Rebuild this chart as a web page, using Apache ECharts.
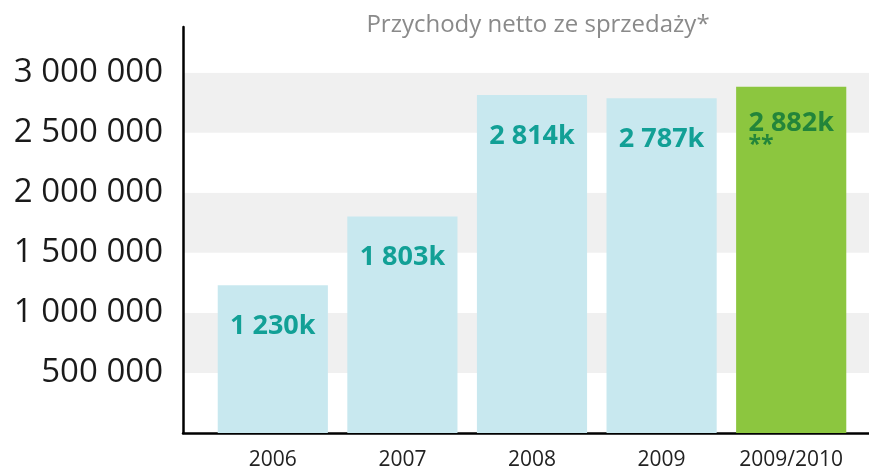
<!DOCTYPE html>
<html>
<head>
<meta charset="utf-8">
<script src="https://cdn.jsdelivr.net/npm/echarts@6/dist/echarts.min.js"></script>
<style>
  html, body { margin: 0; padding: 0; background: #fff; }
  #chart { width: 869px; height: 472px; }
</style>
</head>
<body>
<div id="chart"></div>
<script>
// Chart data
const categories = ['2006', '2007', '2008', '2009', '2009/2010'];
const revenue = [1230000, 1803000, 2814000, 2787000, 2882000];
const barLabels = ['1 230k', '1 803k', '2 814k', '2 787k', '2 882k'];
const footnoteMarks = ['', '', '', '', '**'];
const chartTitle = 'Przychody netto ze sprzedaży*';

const yMax = 3380000;
const FONT = '"Open Sans", "DejaVu Sans", sans-serif';

// Format 3000000 -> "3 000 000"
function formatThousands(v) {
    return String(v).replace(/\B(?=(\d{3})+(?!\d))/g, ' ');
}

const barData = revenue.map((v, i) => {
    const isLast = i === categories.length - 1;
    return {
        value: v,
        itemStyle: { color: isLast ? '#8cc63f' : '#c8e8ef' },
        label: {
            color: isLast ? '#23853a' : '#12a096',
            distance: isLast ? 22 : 27,
            formatter: footnoteMarks[i]
                ? '{a|' + barLabels[i] + '}\n{b|' + footnoteMarks[i] + '}'
                : '{a|' + barLabels[i] + '}'
        }
    };
});

const chart = echarts.init(document.getElementById('chart'), null, { renderer: 'canvas' });

chart.setOption({
    animation: false,
    backgroundColor: '#fff',
    title: {
        text: chartTitle,
        left: 533,
        textAlign: 'center',
        top: 8,
        textStyle: { fontFamily: FONT, fontSize: 24, fontWeight: 'normal', color: '#8a8a8a' }
    },
    grid: [
        // frame grid: axis lines and bands span the full width
        { left: 183, right: 0, top: 27, bottom: 39 },
        // bar grid: categories sit inside the frame
        { left: 208, right: 13, top: 27, bottom: 39 }
    ],
    xAxis: [
        {
            gridIndex: 0,
            type: 'value',
            min: 0,
            max: 1,
            axisLine: { show: true, onZero: false, lineStyle: { color: '#000', width: 2.5 } },
            axisTick: { show: false },
            axisLabel: { show: false },
            splitLine: { show: false }
        },
        {
            gridIndex: 1,
            type: 'category',
            data: categories,
            axisLine: { show: false },
            axisTick: { show: false },
            axisLabel: { interval: 0, margin: 17, fontFamily: FONT, fontSize: 21, color: '#222' }
        }
    ],
    yAxis: [
        {
            gridIndex: 0,
            type: 'value',
            min: 0,
            max: yMax,
            interval: 500000,
            axisLine: { show: true, lineStyle: { color: '#000', width: 2.5 } },
            axisTick: { show: false },
            axisLabel: {
                margin: 20,
                showMinLabel: false,
                showMaxLabel: false,
                fontFamily: FONT,
                fontSize: 33,
                fontWeight: 'normal',
                color: '#1a1a1a',
                formatter: formatThousands
            },
            splitLine: { show: false },
            splitArea: { show: true, areaStyle: { color: ['#ffffff', '#f0f0f0'] } }
        },
        {
            gridIndex: 1,
            type: 'value',
            min: 0,
            max: yMax,
            show: false
        }
    ],
    series: [
        {
            type: 'bar',
            xAxisIndex: 1,
            yAxisIndex: 1,
            data: barData,
            barCategoryGap: '15%',
            label: {
                show: true,
                position: 'insideTop',
                fontFamily: FONT,
                rich: {
                    a: { fontFamily: FONT, fontSize: 27, fontWeight: 'bold', lineHeight: 28 },
                    b: { fontFamily: FONT, fontSize: 23, fontWeight: 'bold', lineHeight: 18, align: 'left' }
                }
            }
        }
    ]
});
</script>
</body>
</html>
